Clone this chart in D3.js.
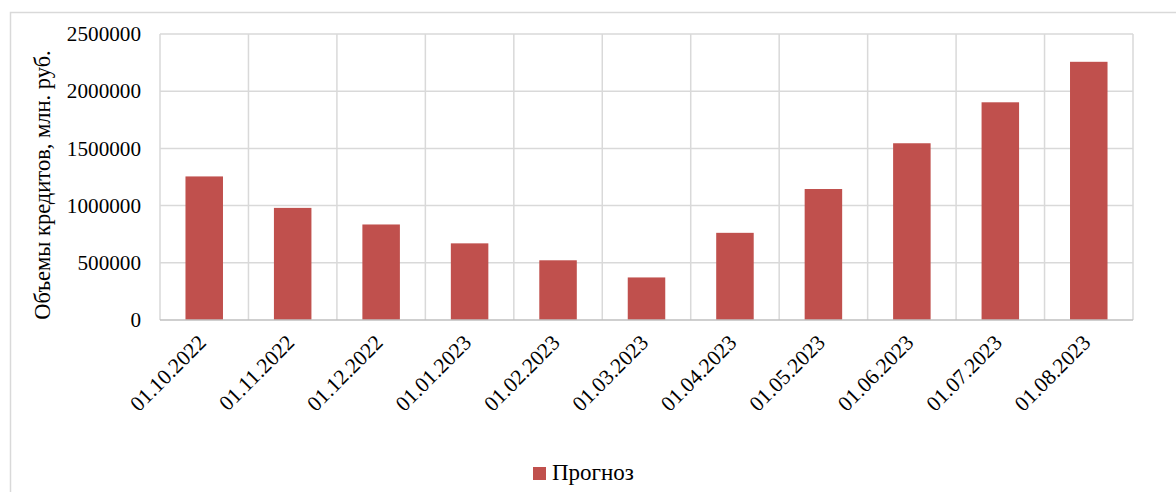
<!DOCTYPE html>
<html>
<head>
<meta charset="utf-8">
<script src="https://cdn.jsdelivr.net/npm/d3@7"></script>
<style>
  html, body { margin: 0; padding: 0; background: #ffffff; }
  svg { display: block; }
</style>
</head>
<body>
<svg id="chart" width="1176" height="492"></svg>
<script>
// Forecast of loan volumes by month (млн. руб.)
const categories = ["01.10.2022", "01.11.2022", "01.12.2022", "01.01.2023", "01.02.2023",
                    "01.03.2023", "01.04.2023", "01.05.2023", "01.06.2023", "01.07.2023", "01.08.2023"];
const forecast = [1255000, 980000, 835000, 670000, 522000, 372000, 762000, 1145000, 1545000, 1903000, 2257000];
const yTicks = [0, 500000, 1000000, 1500000, 2000000, 2500000];
const seriesName = "Прогноз";
const yTitle = "Объемы кредитов, млн. руб.";

const FONT = "Liberation Serif";
const W = 1176, H = 492;
const margin = { left: 160, right: W - 1133, top: 34, bottom: H - 320 };
const svg = d3.select("#chart");

// outer chart frame (extends past the right and bottom edges)
svg.append("rect")
  .attr("x", 10.5).attr("y", 12.5)
  .attr("width", W).attr("height", H)
  .attr("fill", "#ffffff").attr("stroke", "#d9d9d9").attr("stroke-width", 1.5);

const x = d3.scaleBand()
  .domain(categories)
  .range([margin.left, W - margin.right])
  .paddingInner(0.576).paddingOuter(0.288);

const y = d3.scaleLinear()
  .domain([0, 2500000])
  .range([H - margin.bottom, margin.top]);

const plotL = margin.left, plotR = W - margin.right;
const plotT = margin.top, plotB = H - margin.bottom;

// horizontal gridlines
svg.append("g")
  .selectAll("line").data(yTicks.filter(d => d > 0)).join("line")
  .attr("x1", plotL).attr("x2", plotR)
  .attr("y1", d => y(d)).attr("y2", d => y(d))
  .attr("stroke", "#d9d9d9").attr("stroke-width", 1.5);

// vertical gridlines at category boundaries
const step = x.step();
const bounds = d3.range(categories.length + 1).map(i => plotL + i * step);
svg.append("g")
  .selectAll("line").data(bounds).join("line")
  .attr("x1", d => d).attr("x2", d => d)
  .attr("y1", plotT).attr("y2", plotB)
  .attr("stroke", "#d9d9d9").attr("stroke-width", 1.5);

// bars
svg.append("g")
  .selectAll("rect").data(categories).join("rect")
  .attr("x", d => x(d))
  .attr("width", x.bandwidth())
  .attr("y", (d, i) => y(forecast[i]))
  .attr("height", (d, i) => y(0) - y(forecast[i]))
  .attr("fill", "#c0504d");

// category axis line
svg.append("line")
  .attr("x1", plotL).attr("x2", plotR)
  .attr("y1", plotB).attr("y2", plotB)
  .attr("stroke", "#bfbfbf").attr("stroke-width", 1.5);

// y axis tick labels
const yAxis = d3.axisLeft(y).tickValues(yTicks).tickSize(0).tickPadding(19).tickFormat(d3.format("d"));
const gy = svg.append("g").attr("transform", `translate(${plotL},0)`).call(yAxis)
  .attr("font-family", FONT).attr("font-size", 21.2);
gy.select(".domain").remove();
gy.selectAll("text").attr("fill", "#000");

// x axis labels, rotated
const xAxis = d3.axisBottom(x).tickSize(0).tickPadding(0);
const gx = svg.append("g").attr("transform", `translate(0,${plotB})`).call(xAxis)
  .attr("font-family", FONT).attr("font-size", 21.5);
gx.select(".domain").remove();
gx.selectAll("text")
  .attr("fill", "#000")
  .attr("text-anchor", "end")
  .attr("dy", "0")
  .attr("transform", "translate(3,24) rotate(-45)");

// y axis title
svg.append("text")
  .attr("transform", `translate(50,185) rotate(-90)`)
  .attr("text-anchor", "middle")
  .attr("font-family", FONT).attr("font-size", 22.5)
  .text(yTitle);

// legend
const lg = svg.append("g").attr("transform", "translate(533,467)");
lg.append("rect").attr("width", 13).attr("height", 13).attr("fill", "#c0504d");
lg.append("text").attr("x", 19).attr("y", 13)
  .attr("font-family", FONT).attr("font-size", 23)
  .text(seriesName);
</script>
</body>
</html>
